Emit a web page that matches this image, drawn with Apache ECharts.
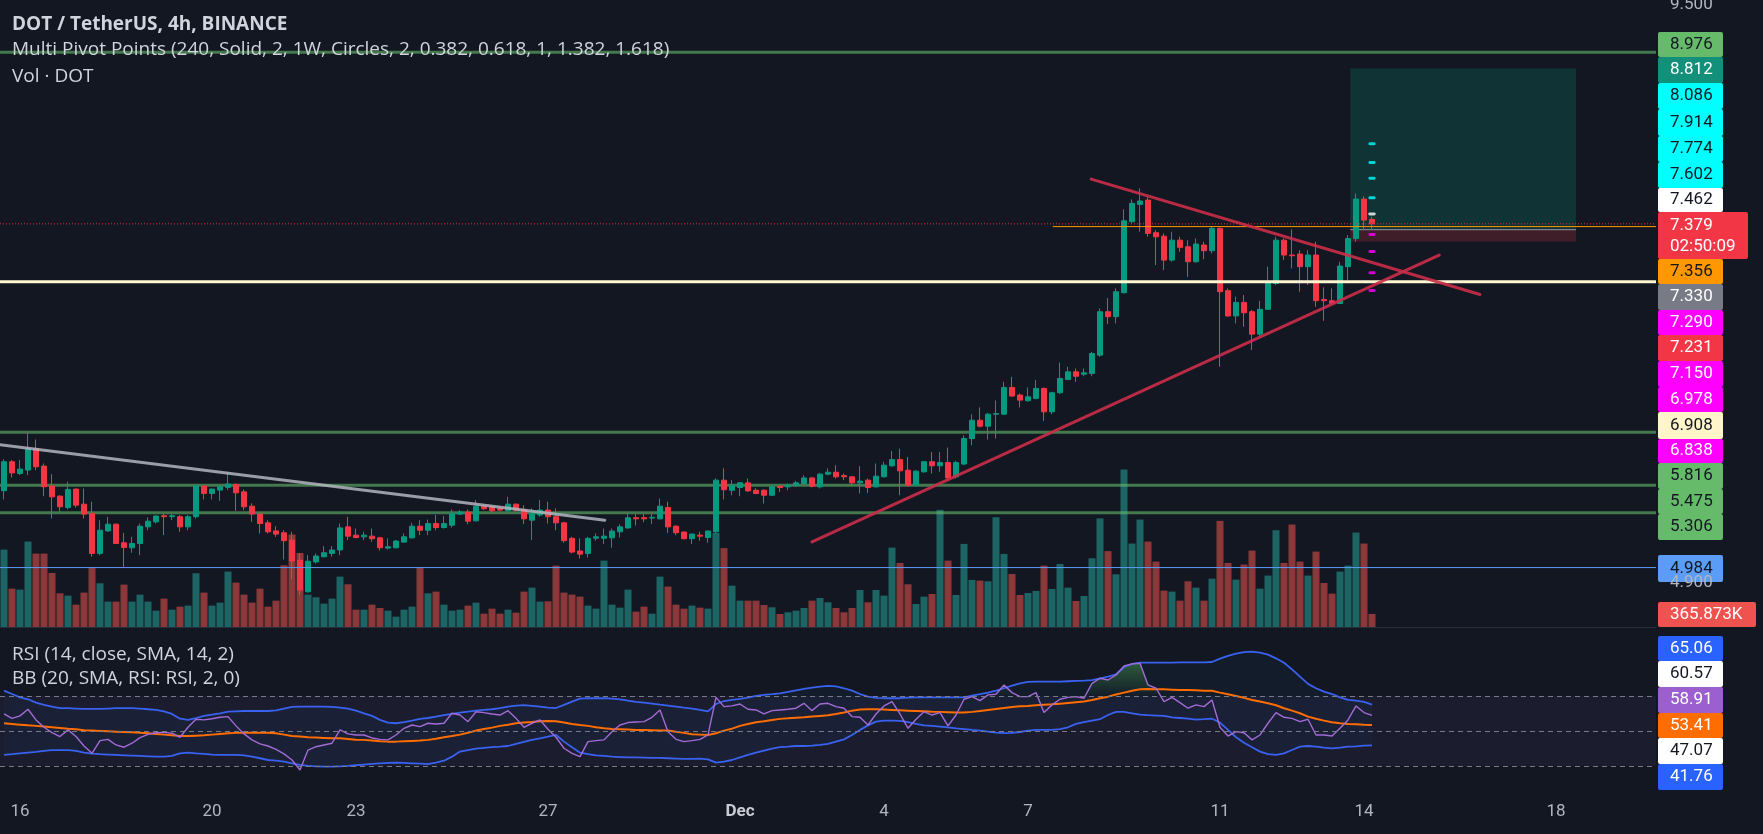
<!DOCTYPE html>
<html><head><meta charset="utf-8">
<script src="https://cdn.jsdelivr.net/npm/echarts@6/dist/echarts.min.js"></script>
<style>html,body{margin:0;padding:0;background:#131722;overflow:hidden}#c{width:1763px;height:834px}</style>
</head><body><div id="c"></div>
<script>
// ---------------- DATA ----------------
// 4h candles, DOT/USDT, from Nov 15 16:00 to Dec 14 04:00: [open, close, low, high]
const candles = [
[5.441,5.624,5.387,5.640],[5.624,5.553,5.524,5.635],[5.549,5.577,5.539,5.635],[5.571,5.710,5.539,5.813],[5.710,5.592,5.571,5.769],
[5.596,5.466,5.407,5.613],[5.470,5.403,5.271,5.545],[5.407,5.342,5.312,5.414],[5.338,5.449,5.326,5.497],[5.451,5.352,5.338,5.455],
[5.358,5.298,5.271,5.455],[5.302,5.065,5.046,5.373],[5.065,5.201,5.055,5.261],[5.197,5.237,5.192,5.282],[5.237,5.123,5.119,5.241],
[5.127,5.100,4.988,5.186],[5.098,5.123,5.069,5.162],[5.123,5.225,5.055,5.241],[5.221,5.255,5.201,5.278],[5.251,5.286,5.241,5.292],
[5.288,5.282,5.172,5.302],[5.282,5.288,5.261,5.302],[5.282,5.221,5.192,5.292],[5.221,5.282,5.201,5.292],[5.282,5.472,5.271,5.476],
[5.470,5.424,5.387,5.476],[5.424,5.451,5.387,5.455],[5.445,5.466,5.379,5.476],[5.462,5.483,5.445,5.560],[5.480,5.428,5.318,5.487],
[5.434,5.342,5.322,5.449],[5.346,5.298,5.251,5.363],[5.298,5.241,5.182,5.312],[5.245,5.192,5.182,5.261],[5.197,5.178,5.162,5.225],
[5.186,5.139,5.030,5.201],[5.143,5.022,4.917,5.192],[5.026,4.858,4.830,5.065],[4.848,5.020,4.843,5.055],[5.016,5.050,5.007,5.065],
[5.046,5.069,5.042,5.108],[5.065,5.085,5.046,5.108],[5.085,5.215,5.055,5.241],[5.221,5.166,5.143,5.282],[5.172,5.158,5.153,5.211],
[5.162,5.172,5.143,5.192],[5.166,5.151,5.133,5.211],[5.156,5.098,5.081,5.162],[5.096,5.104,5.088,5.153],[5.098,5.137,5.094,5.143],
[5.131,5.162,5.127,5.182],[5.156,5.225,5.151,5.245],[5.225,5.201,5.172,5.261],[5.201,5.241,5.172,5.265],[5.241,5.217,5.201,5.292],
[5.217,5.241,5.211,5.286],[5.231,5.302,5.217,5.326],[5.298,5.310,5.292,5.322],[5.310,5.255,5.237,5.326],[5.257,5.346,5.253,5.383],
[5.346,5.330,5.322,5.352],[5.342,5.318,5.310,5.350],[5.332,5.322,5.314,5.342],[5.318,5.358,5.312,5.403],[5.358,5.322,5.314,5.363],
[5.326,5.269,5.237,5.352],[5.261,5.302,5.143,5.332],[5.292,5.322,5.282,5.383],[5.322,5.282,5.241,5.373],[5.282,5.245,5.201,5.332],
[5.245,5.139,5.127,5.251],[5.153,5.073,5.065,5.162],[5.079,5.061,5.036,5.153],[5.065,5.153,5.042,5.162],[5.154,5.162,5.139,5.182],
[5.154,5.166,5.119,5.211],[5.156,5.196,5.098,5.211],[5.192,5.221,5.158,5.237],[5.215,5.276,5.209,5.302],[5.276,5.269,5.229,5.298],
[5.276,5.269,5.249,5.298],[5.274,5.278,5.237,5.298],[5.269,5.346,5.265,5.393],[5.338,5.221,5.186,5.373],[5.225,5.186,5.172,5.231],
[5.190,5.151,5.147,5.194],[5.151,5.178,5.119,5.182],[5.172,5.166,5.139,5.192],[5.158,5.196,5.127,5.201],[5.192,5.507,5.182,5.518],
[5.507,5.447,5.387,5.582],[5.444,5.475,5.413,5.507],[5.461,5.490,5.407,5.496],[5.490,5.440,5.434,5.517],[5.444,5.424,5.419,5.457],
[5.444,5.413,5.362,5.451],[5.413,5.465,5.409,5.475],[5.469,5.461,5.434,5.475],[5.465,5.475,5.444,5.486],[5.473,5.490,5.465,5.503],
[5.486,5.521,5.482,5.538],[5.521,5.469,5.461,5.528],[5.465,5.545,5.455,5.553],[5.545,5.557,5.538,5.581],[5.557,5.528,5.517,5.602],
[5.536,5.528,5.507,5.549],[5.528,5.490,5.469,5.532],[5.490,5.501,5.424,5.596],[5.507,5.461,5.428,5.517],[5.465,5.532,5.461,5.613],
[5.528,5.602,5.524,5.624],[5.598,5.638,5.592,5.694],[5.638,5.566,5.413,5.709],[5.570,5.475,5.469,5.655],[5.475,5.564,5.469,5.570],
[5.560,5.624,5.553,5.630],[5.624,5.598,5.549,5.687],[5.598,5.619,5.560,5.687],[5.619,5.521,5.507,5.716],[5.528,5.619,5.517,5.630],
[5.609,5.775,5.602,5.797],[5.775,5.897,5.731,5.938],[5.897,5.857,5.848,5.984],[5.857,5.938,5.768,5.947],[5.938,5.942,5.775,6.032],
[5.938,6.122,5.931,6.162],[6.122,6.062,6.057,6.197],[6.069,6.034,5.984,6.080],[6.030,6.057,6.023,6.122],[6.046,6.115,6.039,6.173],
[6.115,5.954,5.893,6.122],[5.954,6.085,5.938,6.092],[6.085,6.185,6.076,6.299],[6.178,6.232,6.173,6.268],[6.232,6.201,6.161,6.256],
[6.215,6.225,6.201,6.256],[6.220,6.364,6.201,6.376],[6.352,6.675,6.340,6.700],[6.675,6.637,6.581,6.780],[6.637,6.829,6.586,6.855],
[6.821,7.405,6.816,7.502],[7.397,7.554,7.383,7.588],[7.545,7.574,7.313,7.684],[7.582,7.299,7.271,7.611],[7.305,7.271,7.040,7.327],
[7.276,7.080,7.000,7.299],[7.080,7.243,7.067,7.313],[7.243,7.184,7.148,7.271],[7.189,7.067,6.947,7.243],[7.067,7.211,7.059,7.257],
[7.203,7.156,7.086,7.230],[7.156,7.341,7.134,7.355],[7.341,6.829,6.268,7.349],[6.837,6.643,6.636,6.855],[6.643,6.746,6.586,6.790],
[6.746,6.667,6.561,6.803],[6.675,6.506,6.389,6.688],[6.506,6.693,6.486,6.759],[6.693,6.899,6.688,7.027],[6.894,7.243,6.881,7.271],
[7.243,7.121,7.080,7.257],[7.121,7.115,7.013,7.333],[7.129,7.027,6.829,7.161],[7.027,7.121,6.881,7.161],[7.121,6.759,6.712,7.230],
[6.769,6.759,6.606,6.863],[6.759,6.738,6.730,6.855],[6.738,7.032,6.733,7.067],[7.027,7.257,6.915,7.285],[7.257,7.591,7.230,7.640],
[7.591,7.411,7.327,7.615],[7.417,7.379,7.327,7.439]
];
// volume in thousands of DOT
const volumes = [
2173,1077,1049,2398,2061,2061,1517,946,881,628,965,1658,1227,712,712,1190,712,909,712,459,
796,487,571,600,1508,965,600,684,1555,1246,909,684,1077,571,740,1733,2595,2079,909,834,
656,796,1415,1199,487,487,628,534,459,290,487,571,1658,946,993,628,459,487,600,684,
375,515,375,487,403,993,1105,712,721,1723,965,909,853,600,515,1864,628,543,1049,431,
571,375,1415,1134,628,515,600,543,515,2641,2215,1161,740,740,740,618,553,365,412,459,
534,740,815,693,534,412,534,1040,693,1040,880,2229,1798,1199,646,852,927,3288,1864,899,
2332,1321,1302,1283,3082,2051,1489,899,955,1012,1723,1068,1770,1105,731,870,1930,3050,2130,1480,
4421,2342,3016,2398,1836,1021,993,740,1283,1105,740,1358,2979,1798,1330,1752,2145,1077,1443,2716,
1798,2876,1836,1443,2117,1236,937,1555,1723,2651,2342,365.873
];
const rsi = [
59.7,57.2,58.6,62.4,56.3,52.1,49.0,46.8,50.6,46.8,41.4,37.2,44.5,45.2,42.0,40.7,43.0,46.2,48.1,49.0,
49.2,48.7,46.4,52.1,56.7,56.3,57.0,57.8,58.2,52.9,48.3,44.9,42.6,41.4,39.5,36.9,33.4,27.7,39.1,41.0,
42.0,43.0,50.6,48.3,47.7,47.7,46.0,45.2,44.9,47.7,51.5,53.4,52.5,54.4,54.0,54.4,60.1,59.1,55.3,61.0,
60.5,59.7,59.1,61.6,57.2,52.1,54.4,56.3,51.0,46.4,40.1,37.2,35.3,43.9,44.5,44.9,49.6,53.4,54.8,55.1,
55.3,57.8,62.0,49.6,45.2,43.9,44.5,45.2,47.7,69.2,63.9,64.3,65.4,62.4,62.0,59.7,61.6,62.0,62.4,63.0,
65.8,61.6,65.4,65.8,63.9,63.0,58.2,57.8,53.4,59.7,64.3,66.8,59.7,51.5,56.7,61.0,59.1,60.5,52.9,59.1,
68.1,69.6,67.3,70.6,71.0,76.3,71.9,69.6,69.6,71.9,60.5,64.9,68.1,69.2,69.6,68.7,77.2,80.1,79.1,82.0,
87.1,88.3,88.7,76.3,74.4,66.8,69.2,66.2,63.0,64.9,63.9,67.7,52.1,47.1,49.6,49.0,44.9,47.7,54.4,60.5,
57.8,57.2,55.3,56.7,47.7,47.7,47.1,51.5,56.3,64.3,60.5,58.91
];
const bbUpper = [
73.0,71.1,69.2,68.1,66.2,64.9,63.9,63.1,63.0,62.8,62.6,62.6,62.6,62.8,63.0,63.0,63.0,62.8,62.4,62.0,
61.2,59.7,57.0,56.3,57.4,58.6,59.3,60.1,61.0,61.2,61.4,61.4,61.4,61.4,61.8,62.8,63.7,63.9,63.9,63.9,
63.9,63.7,63.3,62.8,61.6,60.1,58.6,56.3,54.8,54.4,55.0,55.9,56.9,57.4,58.2,59.0,59.7,60.5,61.0,61.6,
62.0,62.4,63.0,63.9,64.5,64.7,64.3,63.9,63.3,63.1,64.9,66.8,68.5,68.7,68.7,68.7,68.5,68.1,67.3,66.6,
66.2,65.6,65.0,64.5,63.9,63.3,62.8,62.0,61.2,65.4,67.1,67.7,68.3,69.0,70.0,70.6,71.0,71.5,72.3,73.2,
74.0,74.8,75.3,75.7,75.5,74.4,73.0,71.1,69.6,68.9,68.7,68.7,68.7,69.0,69.2,69.2,69.2,69.2,69.2,69.2,
69.2,70.2,71.0,71.9,73.0,74.4,75.9,77.2,78.0,78.2,78.2,78.2,78.2,78.4,78.6,78.8,79.1,80.1,81.0,82.4,
86.4,88.3,89.0,89.0,89.0,89.0,89.0,89.2,89.2,89.2,89.2,89.4,91.3,92.9,94.2,95.0,95.3,94.8,93.6,91.5,
89.0,85.2,81.0,76.9,74.4,72.5,71.1,69.2,67.7,67.3,66.6,65.06
];
const bbBasis = [
54.4,54.0,53.6,53.2,52.9,52.5,52.1,51.7,51.3,51.0,50.4,50.2,50.0,49.8,49.6,49.4,49.2,49.0,48.7,48.3,
47.9,47.5,47.1,47.1,47.3,47.5,47.9,48.3,48.7,48.9,49.0,49.0,49.0,49.0,48.7,47.9,47.1,46.8,46.4,46.2,
46.0,45.8,45.8,45.4,45.0,44.9,44.5,44.1,43.9,43.9,44.1,44.3,44.5,44.9,45.6,46.4,47.1,47.9,49.0,50.2,
51.1,51.9,52.9,53.6,54.4,54.8,55.1,55.5,55.7,55.5,54.8,54.0,53.4,52.9,52.1,51.5,51.1,51.0,50.8,50.6,
50.6,50.4,50.2,50.2,49.6,48.9,48.1,47.9,47.7,48.7,50.2,51.3,52.9,54.0,55.0,55.5,56.3,56.9,57.2,57.6,
57.8,58.2,58.6,59.0,59.7,60.5,61.6,62.2,62.4,62.4,62.2,62.0,61.8,61.6,61.4,61.2,61.0,60.9,60.7,60.5,
60.5,60.9,61.4,62.0,62.6,63.1,63.7,64.1,64.3,64.7,65.0,65.2,65.6,66.0,66.4,66.8,67.7,68.7,69.6,70.8,
71.9,73.0,73.8,74.0,73.8,73.8,73.6,73.4,73.4,73.2,73.0,73.0,71.9,71.0,70.0,68.9,67.7,66.8,65.8,64.7,
63.0,61.6,60.1,58.2,57.0,55.9,55.0,54.4,54.0,53.8,53.6,53.41
];
const bbLower = [
36.3,36.7,37.2,37.6,38.0,38.6,39.0,39.1,39.1,38.6,37.6,37.0,36.7,36.5,36.3,36.1,35.9,35.7,35.5,35.3,
35.3,35.7,37.2,37.6,37.2,36.9,36.5,36.3,36.3,36.3,36.1,35.3,34.4,33.4,33.0,32.5,31.5,30.6,30.0,29.8,
29.6,29.6,29.8,30.0,30.4,30.8,31.2,31.5,31.7,31.9,31.7,31.5,31.3,31.1,31.9,33.0,35.3,38.2,39.1,39.9,
40.3,40.7,41.0,41.4,42.6,43.7,44.9,45.8,46.8,47.7,43.9,40.7,37.6,36.7,36.1,35.7,35.3,35.1,34.9,34.9,
34.8,34.6,34.6,34.4,34.2,34.0,34.0,34.2,33.8,31.9,32.5,33.4,34.9,36.3,37.6,38.8,39.9,40.7,41.0,41.4,
41.4,41.6,42.0,42.6,43.9,45.2,47.7,50.6,53.2,55.3,55.9,55.9,55.7,55.1,54.0,53.2,52.9,52.5,52.1,51.5,
51.1,50.6,50.2,49.6,49.0,48.7,48.9,49.4,50.2,50.6,50.6,50.6,51.0,52.1,54.0,55.1,55.9,56.7,59.1,60.9,
60.9,60.1,59.3,59.0,58.8,58.6,57.8,57.4,57.0,56.5,56.7,57.0,54.8,50.6,46.4,43.3,40.7,38.2,36.7,36.3,
37.2,39.1,41.0,41.4,41.0,40.5,40.1,40.5,41.0,41.2,41.6,41.76
];
const rsiOtherLevels = [60.57, 47.07];
const rsiGuides = [70, 50, 30];

// price levels
const pivotGreenLevels = [8.976, 5.816, 5.475, 5.306];
const resistanceLevels = [8.086, 7.914, 7.774, 7.602];
const pivotLevel = 7.462;
const supportLevels = [7.290, 7.150, 6.978, 6.838];
const horizontalLevel = 6.908;
const blueLevel = 4.984;
const orangeLevel = 7.356;
const orangeStart = 131.1;
const position = {entry: 7.330, target: 8.812, stop: 7.231, from: 168.3, to: 196.5};
const countdown = '02:50:09';
// trend lines: [barIndex, price]
const trendGray = [[-0.5, 5.735], [75.1, 5.261]];
const trendDown = [[135.9, 7.766], [184.5, 6.807]];
const trendUp = [[101.0, 5.132], [179.4, 7.121]];
// time axis ticks
const tickIndex = [2, 26, 44, 68, 92, 110, 128, 152, 170, 194];
const tickText = ['16', '20', '23', '27', 'Dec', '4', '7', '11', '14', '18'];
const scaleTicks = [9.5, 4.9];

// ---------------- LAYOUT ----------------
const W = 1763, PLOT_R = 1656;
const N_CAT = 207;
const PRICE_MIN = 4.657, PRICE_MAX = 9.528, VOL_MAX = 17600;
const RSI_MIN = 13.4, RSI_MAX = 109.4;
const G0 = {top: 0, h: 627}, G1 = {top: 627, h: 168};
const UP = '#089981', DOWN = '#f23645';
const FONT = 'Roboto, "Noto Sans", sans-serif';
const LEGEND_FONT = '"Open Sans", Roboto, sans-serif';
const TXT = '#d1d4dc';

const categories = [];
const t0 = Date.UTC(2023, 10, 15, 16, 0);
for (let k = 0; k < N_CAT; k++) {
  const d = new Date(t0 + k * 4 * 3600e3);
  categories.push(d.toISOString().slice(5, 16).replace('T', ' '));
}
const last = candles.length - 1;

const chart = echarts.init(document.getElementById('c'), null, {width: W, height: 834});

function hLine(v, color, width, type, x0, x1, z) {
  return {type: 'line', xAxisIndex: 1, yAxisIndex: 0, data: [[x0, v], [x1, v]], symbol: 'none',
    lineStyle: {color: color, width: width, type: type || 'solid'}, silent: true, z: z || 4, animation: false};
}
function segLine(pts, color, width, z) {
  return {type: 'line', xAxisIndex: 1, yAxisIndex: 0, data: pts, symbol: 'none',
    lineStyle: {color: color, width: width, cap: 'round'}, silent: true, z: z || 5, animation: false};
}
function dashes(levels, color) {
  return {type: 'scatter', xAxisIndex: 0, yAxisIndex: 0, data: levels.map(v => [last, v]),
    symbol: 'roundRect', symbolSize: [7, 3], itemStyle: {color: color}, silent: true, z: 6, animation: false};
}
const yPix = v => G1.top + (RSI_MAX - v) / (RSI_MAX - RSI_MIN) * G1.h;

// overbought fill (RSI above 70)
const obBase = [], obDiff = [];
rsi.forEach((v, i) => {
  const near = v > 70 || (i > 0 && rsi[i - 1] > 70) || (i < rsi.length - 1 && rsi[i + 1] > 70);
  obBase.push(near ? 70 : '-');
  obDiff.push(near ? Math.max(v - 70, 0) : '-');
});
const bbDiff = bbUpper.map((u, i) => +(u - bbLower[i]).toFixed(2));

const series = [
  {type: 'bar', xAxisIndex: 0, yAxisIndex: 1, barWidth: 7, z: 1, silent: true, animation: false,
    data: volumes.map((v, i) => ({value: v, itemStyle: {color: candles[i][1] >= candles[i][0] ? 'rgba(38,166,154,0.55)' : 'rgba(239,83,80,0.55)'}}))},
  {type: 'line', xAxisIndex: 1, yAxisIndex: 0, symbol: 'none', z: 1, silent: true, animation: false,
    data: [[position.from, position.entry], [position.to, position.entry]],
    lineStyle: {color: '#9598a1', width: 1},
    markArea: {silent: true, data: [
      [{coord: [position.from, position.target], itemStyle: {color: 'rgba(8,153,129,0.22)'}}, {coord: [position.to, position.entry]}],
      [{coord: [position.from, position.entry], itemStyle: {color: 'rgba(242,54,69,0.2)'}}, {coord: [position.to, position.stop]}]
    ]}},
  hLine(pivotGreenLevels[0], 'rgba(102,187,106,0.6)', 3, 'solid', -0.5, 206.5, 2),
  hLine(pivotGreenLevels[1], 'rgba(102,187,106,0.6)', 3, 'solid', -0.5, 206.5, 2),
  hLine(pivotGreenLevels[2], 'rgba(102,187,106,0.6)', 3, 'solid', -0.5, 206.5, 2),
  hLine(pivotGreenLevels[3], 'rgba(102,187,106,0.6)', 3, 'solid', -0.5, 206.5, 2),
  {type: 'candlestick', xAxisIndex: 0, yAxisIndex: 0, barWidth: 6, z: 3, silent: true, animation: false,
    data: candles,
    itemStyle: {color: UP, color0: DOWN, borderColor: UP, borderColor0: DOWN, borderWidth: 1}},
  hLine(horizontalLevel, '#fff6cf', 3, 'solid', -0.5, 206.5, 4),
  hLine(blueLevel, '#5b9cf6', 1, 'solid', -0.5, 206.5, 4),
  hLine(candles[last][1], 'rgba(242,54,69,0.9)', 1, [1, 2], -0.5, 206.5, 4),
  hLine(orangeLevel, '#ff9800', 1, 'solid', orangeStart, 206.5, 4),
  segLine(trendGray, 'rgba(178,181,190,0.85)', 3),
  segLine(trendDown, 'rgba(204,46,72,0.9)', 3),
  segLine(trendUp, 'rgba(204,46,72,0.9)', 3),
  dashes(resistanceLevels, '#00ffff'),
  dashes([pivotLevel], '#ffffff'),
  dashes(supportLevels, '#ff00ff'),
  // RSI pane
  {type: 'line', xAxisIndex: 2, yAxisIndex: 2, data: [], symbol: 'none', z: 0, silent: true, animation: false,
    markArea: {silent: true, itemStyle: {color: 'rgba(126,87,194,0.08)'}, data: [[{yAxis: 70}, {yAxis: 30}]]},
    markLine: {silent: true, symbol: 'none', label: {show: false},
      lineStyle: {color: '#787b86', type: [5, 4], width: 1},
      data: rsiGuides.map(v => ({yAxis: v}))}},
  {type: 'line', xAxisIndex: 2, yAxisIndex: 2, data: bbLower, stack: 'bb', symbol: 'none', lineStyle: {width: 0}, z: 1, silent: true, animation: false},
  {type: 'line', xAxisIndex: 2, yAxisIndex: 2, data: bbDiff, stack: 'bb', symbol: 'none', lineStyle: {width: 0},
    areaStyle: {color: 'rgba(33,150,243,0.06)'}, z: 1, silent: true, animation: false},
  {type: 'line', xAxisIndex: 2, yAxisIndex: 2, data: obBase, stack: 'ob', symbol: 'none', lineStyle: {width: 0}, z: 2, silent: true, animation: false},
  {type: 'line', xAxisIndex: 2, yAxisIndex: 2, data: obDiff, stack: 'ob', symbol: 'none', lineStyle: {width: 0}, z: 2, silent: true, animation: false,
    areaStyle: {color: {type: 'linear', x: 0, y: yPix(100), x2: 0, y2: yPix(70), global: true,
      colorStops: [{offset: 0, color: 'rgba(76,175,80,1)'}, {offset: 1, color: 'rgba(76,175,80,0)'}]}}},
  {type: 'line', xAxisIndex: 2, yAxisIndex: 2, data: bbUpper, symbol: 'none', lineStyle: {color: '#3a62f0', width: 1.8}, z: 3, silent: true, animation: false},
  {type: 'line', xAxisIndex: 2, yAxisIndex: 2, data: bbLower, symbol: 'none', lineStyle: {color: '#3a62f0', width: 1.8}, z: 3, silent: true, animation: false},
  {type: 'line', xAxisIndex: 2, yAxisIndex: 2, data: bbBasis, symbol: 'none', lineStyle: {color: '#ff6d00', width: 2}, z: 3, silent: true, animation: false},
  {type: 'line', xAxisIndex: 2, yAxisIndex: 2, data: rsi, symbol: 'none', lineStyle: {color: '#a36bd6', width: 1.4}, z: 4, silent: true, animation: false}
];

const option = {
  backgroundColor: '#131722',
  animation: false,
  textStyle: {fontFamily: FONT},
  grid: [
    {left: 0, right: W - PLOT_R, top: G0.top, height: G0.h},
    {left: 0, right: W - PLOT_R, top: G1.top, height: G1.h}
  ],
  xAxis: [
    {type: 'category', gridIndex: 0, data: categories, show: false, boundaryGap: true},
    {type: 'value', gridIndex: 0, min: -0.5, max: N_CAT - 0.5, show: false},
    {type: 'category', gridIndex: 1, data: categories, boundaryGap: true,
      axisLine: {show: false}, axisTick: {show: false}, splitLine: {show: false},
      axisLabel: {
        color: '#b2b5be', fontSize: 17, fontFamily: FONT, margin: 8,
        interval: (idx) => tickIndex.indexOf(idx) >= 0,
        formatter: (val, idx) => { const t = tickText[tickIndex.indexOf(idx)]; return t === 'Dec' ? '{b|Dec}' : t; },
        rich: {b: {fontWeight: 'bold', color: '#c9ccd4', fontSize: 17, fontFamily: FONT}}
      }}
  ],
  yAxis: [
    {type: 'log', logBase: 10, gridIndex: 0, min: PRICE_MIN, max: PRICE_MAX, show: false},
    {type: 'value', gridIndex: 0, min: 0, max: VOL_MAX, show: false},
    {type: 'value', gridIndex: 1, min: RSI_MIN, max: RSI_MAX, show: false}
  ],
  series: series
};
chart.setOption(option);

// --------- scale labels (right column) ---------
const colLeft = 1658, txtX = 1670;
const stackedValues = [pivotGreenLevels[0], position.target].concat(resistanceLevels, [pivotLevel, candles[last][1], orangeLevel, position.entry, supportLevels[0], position.stop, supportLevels[1], supportLevels[2], horizontalLevel, supportLevels[3]], pivotGreenLevels.slice(1), [blueLevel]);
const stackedSlots = [[32,57],[57,83],[83,109],[109,136],[136,162],[162,188],[188,212],[212,259],[259,284],[284,310],[310,335],[335,361],[361,387],[387,412],[412,439],[439,463],[463,489],[489,514],[514,540],[555,582]];
const G = '#66bb6a', C = '#00ffff', M = '#ff00ff', D = '#131722', Wt = '#ffffff';
const stackedColors = [[G,D],['#12907a',Wt],[C,D],[C,D],[C,D],[C,D],[Wt,D],[DOWN,Wt],['#ff9800',D],['#787b86',Wt],[M,Wt],[DOWN,Wt],[M,Wt],[M,Wt],['#fff5c8',D],[M,Wt],[G,D],[G,D],[G,D],['#5b9cf6',D]];
const rsiValues = [bbUpper[last], rsiOtherLevels[0], rsi[last], bbBasis[last], rsiOtherLevels[1], bbLower[last]];
const rsiSlots = [[636,661],[661,687],[687,713],[713,738],[738,764],[764,790]];
const rsiColors = [['#2962ff',Wt],[Wt,D],['#9c5fcf',Wt],['#ff6d00',Wt],[Wt,D],['#2962ff',Wt]];

const gfx = [];
function txt(text, x, y, color, size, weight, family) {
  gfx.push({type: 'text', x: x, y: y, z: 100, silent: true,
    style: {text: text, fill: color, fontSize: size, fontFamily: family || FONT, fontWeight: weight || 'normal',
      align: 'left', verticalAlign: 'middle', textAlign: 'left', textVerticalAlign: 'middle'}});
}
function box(y0, y1, w, fill) {
  gfx.push({type: 'rect', z: 99, silent: true, shape: {x: colLeft, y: y0, width: w, height: y1 - y0, r: 2}, style: {fill: fill}});
}
// plain scale ticks
scaleTicks.forEach(v => {
  const y = Math.max(5, chart.convertToPixel({yAxisIndex: 0}, v));
  txt(v.toFixed(3), txtX, y, '#b2b5be', 17);
});
stackedValues.forEach((v, i) => {
  const s = stackedSlots[i], c = stackedColors[i];
  if (i === 7) {
    box(s[0], s[1], 90, c[0]);
    txt(v.toFixed(3), txtX, s[0] + 14, c[1], 17);
    txt(countdown, txtX, s[0] + 35, c[1], 17);
  } else {
    box(s[0], s[1], 65, c[0]);
    txt(v.toFixed(3), txtX, (s[0] + s[1]) / 2, c[1], 17);
  }
});
box(602, 627, 98, '#ef5350');
txt(volumes[last].toFixed(3) + 'K', txtX, 614.5, Wt, 17);
rsiValues.forEach((v, i) => {
  const s = rsiSlots[i], c = rsiColors[i];
  box(s[0], s[1], 65, c[0]);
  txt(v.toFixed(2), txtX, (s[0] + s[1]) / 2, c[1], 17);
});
// separator between panes
gfx.push({type: 'rect', z: -1, silent: true, shape: {x: 0, y: 627, width: PLOT_R, height: 1}, style: {fill: '#2a2e39'}});
// legends
txt('DOT / TetherUS, 4h, BINANCE', 12, 25, TXT, 19, 'bold', LEGEND_FONT);
txt('Multi Pivot Points (240, Solid, 2, 1W, Circles, 2, 0.382, 0.618, 1, 1.382, 1.618)', 12, 50, TXT, 19, 'normal', LEGEND_FONT);
txt('Vol · DOT', 12, 77, TXT, 19, 'normal', LEGEND_FONT);
txt('RSI (14, close, SMA, 14, 2)', 12, 655, TXT, 19, 'normal', LEGEND_FONT);
txt('BB (20, SMA, RSI: RSI, 2, 0)', 12, 679, TXT, 19, 'normal', LEGEND_FONT);

chart.setOption({graphic: {elements: gfx}});
</script>
</body></html>
